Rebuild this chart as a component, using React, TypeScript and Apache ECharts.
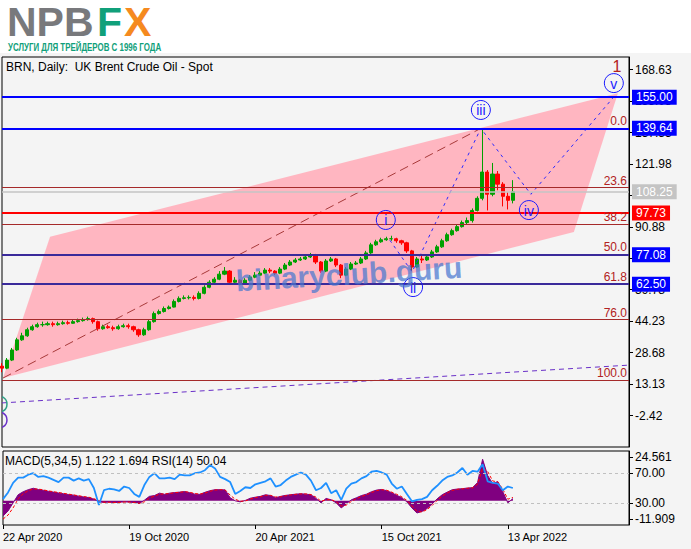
import React, { useEffect, useRef } from "react";
import * as echarts from "echarts";

const FONT = '"Liberation Sans", Arial, sans-serif';

// ---- weekly OHLC of Brent ----
const firstOpen = 22;
const closes = [
  21, 25, 30, 35, 37, 40, 41.5, 42.5, 42.5, 43, 42.5, 43, 43.5, 43.2, 44, 44.5, 45, 45.5, 44, 40.5,
  41.5, 41, 40.5, 41.5, 42, 41.5, 40, 37.5, 40, 44, 48, 49, 50.5, 51.2, 54, 55.5, 55.8, 56, 55.5, 58,
  61, 63.5, 65, 67.5, 69, 63.5, 64.5, 63, 64.5, 66, 67, 68, 69.5, 69, 68, 70, 72, 73.5, 74.5, 75,
  76, 77, 73.5, 69, 74, 75, 72, 67, 70, 72.5, 73, 75, 78, 82, 83.5, 84.5, 85, 85, 84, 83,
  79, 71, 75, 74.5, 76, 78.5, 81, 84, 87, 89, 91, 93, 94, 99, 105, 118, 107, 117, 112, 106,
  104, 108.25,
];
const highs = [
  23.5, 26, 31, 36, 38.5, 41, 42.5, 43.5, 44, 44, 44, 44, 44.5, 44.5, 45, 45.5, 46, 46.5, 46, 44.5,
  42.5, 42.5, 42, 42.5, 43, 43, 42, 40.5, 41, 45, 49, 50, 51.5, 52, 55, 56.5, 57, 57, 57, 59,
  62, 64.5, 66, 69, 71, 69.5, 66, 65, 65.5, 67, 68.5, 69, 70.5, 70.5, 69.5, 71, 73, 74.5, 75.5, 76,
  77, 78, 77.5, 74, 75, 76, 75.5, 72.5, 71, 73.5, 74, 76, 79, 83, 84.5, 85.5, 86, 86.5, 85.5, 84.5,
  83.5, 79.5, 76, 76.5, 77, 79.5, 82, 85, 88, 90, 92, 94, 95.5, 100, 106, 139.6, 119, 122.5, 118.5, 113,
  108, 114,
];
const lows = [
  19, 20.5, 24.5, 29.5, 34.5, 36.5, 39.5, 41, 41.5, 42, 41.5, 42, 42.5, 42.5, 43, 43.5, 44, 44.5, 43, 39.5,
  40, 40.5, 39.5, 40, 41, 40.5, 39, 36.5, 37, 39.5, 43.5, 47.5, 48.5, 50, 51, 53.5, 55, 55, 54.5, 55,
  57.5, 60.5, 63, 64.5, 67, 62.5, 62.5, 62, 62.5, 64, 65.5, 67, 67.5, 68, 67, 67.5, 69.5, 71.5, 73, 74,
  74.5, 75.5, 72.5, 68, 68.5, 73.5, 71, 65.5, 66.5, 69.5, 72, 72.5, 74.5, 77.5, 81.5, 83, 84, 84, 83, 82,
  78, 69, 70.5, 73, 74, 75.5, 78, 80.5, 83.5, 86.5, 88.5, 90.5, 92, 93, 98.5, 104, 99, 106, 109, 101,
  99.5, 102.5,
];

// ---- indicator panel (weekly samples) ----
const rsi = [
  35, 44, 57, 64, 64, 68, 70, 65, 66, 64, 61, 58, 64, 64, 60, 63, 60, 62, 50, 27,
  47, 49, 48, 46, 52, 50, 42, 38, 54, 65, 70, 63, 63, 64, 62, 68, 67, 67, 70, 71,
  74, 81, 76.5, 65, 62, 58, 42, 46, 51, 50, 55, 57, 59, 63, 52, 54, 60, 65, 68, 71,
  68, 60, 47, 50, 57, 43, 47, 34, 49, 56, 58, 63, 66, 72, 73, 71, 68, 56, 49, 52,
  42, 32, 34, 35, 38, 47, 53, 60, 65, 67, 71, 77, 68, 73, 72, 82, 59, 57, 56, 47,
  52, 50,
];
const macd = [
  -7.5, -5, -1, 3, 4.5, 5.5, 6.2, 5.6, 5.2, 4.7, 4.3, 3.9, 3.5, 3.1, 2.8, 2.3, 1.9, 1.6, 0.8, -0.5,
  -0.8, -0.6, -0.9, -0.7, -0.5, -0.6, -0.9, -1.3, 0.3, 2.2, 2.6, 3.8, 3.2, 3.8, 4.1, 4.3, 4.6, 4, 3.3, 3.2,
  4.2, 5, 5.5, 5.5, 5.4, 1.5, 0, -0.5, 0.2, 1.3, 1.8, 2.2, 3, 2.6, 1.5, 2.2, 2.7, 3, 3.3, 3.5,
  3.3, 3, 1.2, -1, 1.2, 0.5, -1, -3.5, -1.5, 0.5, 1.5, 2.6, 3.3, 4.5, 5.3, 5.6, 5, 4, 2.7, 1.5,
  -0.5, -3.5, -6, -5.2, -3.8, -1.5, 1, 3, 4.3, 5.5, 5.8, 6, 6.3, 6.5, 9, 20.5, 12.5, 8.5, 9.5, 4.5,
  -1, 1.1,
];
const signal = [
  -9, -7, -3.5, 1, 3.5, 5, 5.8, 5.8, 5.4, 4.9, 4.5, 4.1, 3.7, 3.3, 2.9, 2.5, 2.1, 1.8, 1.1, 0,
  -0.7, -0.7, -0.8, -0.8, -0.6, -0.6, -0.8, -1.2, -0.5, 1.4, 2.3, 3.3, 3.4, 3.6, 4, 4.2, 4.5, 4.2, 3.6, 3.3,
  3.8, 4.7, 5.3, 5.5, 5.4, 2.8, 0.8, -0.2, -0.1, 0.9, 1.6, 2, 2.7, 2.7, 1.9, 2, 2.5, 2.9, 3.2, 3.4,
  3.4, 3.1, 1.8, -0.2, 0.5, 0.6, -0.4, -2.6, -2.1, -0.3, 1, 2.1, 3, 4.1, 5, 5.5, 5.2, 4.3, 3.2, 2,
  0.2, -2.5, -5.2, -5.5, -4.3, -2.3, 0.2, 2.3, 3.9, 5.1, 5.7, 5.9, 6.2, 6.4, 8.2, 16, 14.5, 9.8, 9.3, 5.8,
  0.8, 1.7,
];

// ---- axes ----
const slotCount = 125;
const dateTickIndex = [0, 25, 50, 75, 100];
const dateTickLabels = ["22 Apr 2020", "19 Oct 2020", "20 Apr 2021", "15 Oct 2021", "13 Apr 2022"];
const priceTicks = [168.63, 153.08, 137.53, 121.98, 106.43, 90.88, 75.33, 59.78, 44.23, 28.68, 13.13, -2.42];
const rsiTicks = [70, 30];
const macdMax = 24.561;
const macdMin = -11.909;

// ---- Fibonacci retracement ----
const fibHigh = 139.64;
const fibLow = 15.16;
const fibRatios = [0, 23.6, 38.2, 50, 61.8, 76, 100];

// ---- horizontal levels ----
const levelValues = [155.0, 139.64, 108.25, 97.73, 77.08, 62.5];
const levelKinds = ["target", "target", "price", "support", "wave", "wave"];

// ---- drawn objects (x in week index, y in price) ----
const channelIdx = [0.2, 9.5, 121.8, 113.1];
const channelPrice = [16.1, 86.0, 157.0, 88.4];
const trendIdx = [0.2, 94.7];
const trendPrice = [16.1, 139.6];
const baseIdx = [0, 124];
const basePrice = [3.8, 22.5];
const waveIdx = [76.7, 81.1, 94.7, 104.6, 120.8];
const wavePrice = [84.3, 68.6, 139.6, 107.0, 154.6];
const waveLabels = ["i", "ii", "iii", "iv", "v"];
const waveLabelIdx = [75.9, 81.3, 94.7, 104.2, 121.0];
const waveLabelPrice = [94.3, 61.1, 148.7, 99.2, 162.0];
const degreeLabel = "1";
const degreeIdx = 121.6;
const degreePrice = 170.4;
const edgeCircleIdx = [-0.6, -0.6];
const edgeCirclePrice = [3.2, -4.6];

const levelStyle: Record<string, { line: string; width: number; box: string }> = {
  target: { line: "#0000ff", width: 2, box: "#0000ff" },
  price: { line: "#c4c4c4", width: 1.5, box: "#c4c4c4" },
  support: { line: "#ff0000", width: 2, box: "#ff0000" },
  wave: { line: "#3a2a9a", width: 2, box: "#0000ff" },
};

export default function App() {
  const ref = useRef<HTMLDivElement>(null);
  useEffect(() => {
    const chart = echarts.init(ref.current!, null, { renderer: "svg", width: 691, height: 549 });
    const slots = Array.from({ length: slotCount }, (_, i) => String(i));
    const candles = closes.map((c, i) => [i === 0 ? firstOpen : closes[i - 1], c, lows[i], highs[i]]);
    const macdRange = macdMax - macdMin;
    // label anchors placed just inside the panel edges (as the terminal draws them)
    const macdLabelAt = [macdMax - macdRange * 0.08, macdMin + macdRange * 0.08];
    const macdLabelText = [macdMax.toFixed(3), macdMin.toFixed(3)];

    const fibItems = fibRatios.map((r) => ({
      yAxis: fibHigh - (r / 100) * (fibHigh - fibLow),
      lineStyle: { color: "#a52a2a", width: 1, type: "solid" },
      label: {
        show: true,
        position: "insideEndTop",
        formatter: r.toFixed(1),
        color: "#b22222",
        fontSize: 12,
        fontFamily: FONT,
        distance: [2, 1],
      },
    }));
    const levelItems = levelValues.map((v, k) => {
      const s = levelStyle[levelKinds[k]];
      return {
        yAxis: v,
        lineStyle: { color: s.line, width: s.width, type: "solid" },
        label: {
          show: true,
          position: "end",
          formatter: v.toFixed(2),
          color: "#ffffff",
          backgroundColor: s.box,
          padding: [2, 4, 1, 4],
          fontSize: 12,
          fontFamily: FONT,
          distance: 3,
        },
      };
    });

    const lineSets = [
      { idx: trendIdx, price: trendPrice, stroke: "#a83a3a", dash: [9, 5] },
      { idx: baseIdx, price: basePrice, stroke: "#6a30c8", dash: [5, 4] },
      { idx: waveIdx, price: wavePrice, stroke: "#2a2aff", dash: [3, 4] },
    ];

    const option: any = {
      animation: false,
      backgroundColor: "#f4f4f4",
      textStyle: { fontFamily: FONT },
      grid: [
        { left: 2, top: 57, width: 627, height: 390, show: true, borderColor: "#000", borderWidth: 1, backgroundColor: "transparent" },
        { left: 2, top: 451, width: 627, height: 74, show: true, borderColor: "#000", borderWidth: 1, backgroundColor: "transparent" },
      ],
      xAxis: [
        { type: "category", gridIndex: 0, data: slots, boundaryGap: false, axisLine: { show: false, onZero: false }, axisTick: { show: false }, axisLabel: { show: false }, splitLine: { show: false } },
        {
          type: "category", gridIndex: 1, data: slots, boundaryGap: false,
          axisLine: { show: false, onZero: false },
          axisTick: { show: true, length: 4, lineStyle: { color: "#000" }, interval: (i: number) => dateTickIndex.includes(i) },
          axisLabel: {
            interval: (i: number) => dateTickIndex.includes(i),
            formatter: (_v: string, i: number) => dateTickLabels[dateTickIndex.indexOf(i)] ?? "",
            align: "left", color: "#000", fontSize: 11, fontFamily: FONT, margin: 6,
          },
          splitLine: { show: false },
        },
        { type: "value", gridIndex: 0, min: 0, max: slotCount - 1, show: false, axisLine: { onZero: false } },
      ],
      yAxis: [
        {
          type: "value", gridIndex: 0, position: "right", min: -18, max: 174.9,
          axisLine: { show: true, onZero: false, lineStyle: { color: "#000" } },
          axisTick: { show: true, length: 4, lineStyle: { color: "#000" }, customValues: priceTicks },
          axisLabel: { customValues: priceTicks, formatter: (v: number) => v.toFixed(2), color: "#000", fontSize: 12, fontFamily: FONT, margin: 6 },
          splitLine: { show: false },
        },
        {
          type: "value", gridIndex: 1, position: "right", min: 0, max: 100,
          axisLine: { show: true, onZero: false, lineStyle: { color: "#000" } },
          axisTick: { show: true, length: 4, lineStyle: { color: "#000" }, customValues: rsiTicks },
          axisLabel: { customValues: rsiTicks, formatter: (v: number) => v.toFixed(2), color: "#000", fontSize: 12, fontFamily: FONT, margin: 6 },
          splitLine: { show: false },
        },
        {
          type: "value", gridIndex: 1, position: "right", min: macdMin, max: macdMax,
          axisLine: { show: false, onZero: false },
          axisTick: { show: true, length: 4, lineStyle: { color: "#000" }, customValues: macdLabelAt },
          axisLabel: {
            customValues: macdLabelAt,
            formatter: (v: number) => macdLabelText[v > 0 ? 0 : 1],
            color: "#000", fontSize: 12, fontFamily: FONT, margin: 6,
          },
          splitLine: { show: false },
        },
      ],
      series: [
        {
          type: "custom", name: "channel", xAxisIndex: 2, yAxisIndex: 0, clip: true, silent: true, z: 1,
          data: [[0, 0]],
          renderItem: (_p: any, api: any) => ({
            type: "polygon",
            shape: { points: channelIdx.map((x, k) => api.coord([x, channelPrice[k]])) },
            style: { fill: "#ffb6c1" },
          }),
        },
        {
          type: "candlestick", name: "BRN", xAxisIndex: 0, yAxisIndex: 0, z: 2, barWidth: 3.6,
          data: candles,
          itemStyle: { color: "#00a000", color0: "#ff0000", borderColor: "#00a000", borderColor0: "#ff0000", borderWidth: 1 },
        },
        {
          type: "line", name: "levels", xAxisIndex: 0, yAxisIndex: 0, z: 3, clip: false, data: [],
          markLine: { silent: true, symbol: ["none", "none"], animation: false, data: [...fibItems, ...levelItems] },
        },
        {
          type: "custom", name: "lines", xAxisIndex: 2, yAxisIndex: 0, clip: true, silent: true, z: 4,
          data: lineSets.map((_, k) => [k, 0]),
          renderItem: (p: any, api: any) => {
            const d = lineSets[p.dataIndex];
            return {
              type: "polyline",
              shape: { points: d.idx.map((x, j) => api.coord([x, d.price[j]])) },
              style: { stroke: d.stroke, lineWidth: 1, lineDash: d.dash, fill: null },
            };
          },
        },
        {
          type: "custom", name: "waves", xAxisIndex: 2, yAxisIndex: 0, clip: true, silent: true, z: 5,
          data: waveLabels.map((_, k) => [k, 0]),
          renderItem: (p: any, api: any) => {
            const k = p.dataIndex;
            const [cx, cy] = api.coord([waveLabelIdx[k], waveLabelPrice[k]]);
            return {
              type: "group",
              children: [
                { type: "circle", shape: { cx, cy, r: 9.5 }, style: { fill: "none", stroke: "#1a1aff", lineWidth: 1 } },
                { type: "text", x: cx, y: cy + 0.5, style: { text: waveLabels[k], fill: "#1a1aff", font: `14px ${FONT}`, align: "center", verticalAlign: "middle" } },
              ],
            };
          },
        },
        {
          type: "custom", name: "marks", xAxisIndex: 2, yAxisIndex: 0, clip: true, silent: true, z: 5,
          data: [[0, 0]],
          renderItem: (_p: any, api: any) => {
            const [dx, dy] = api.coord([degreeIdx, degreePrice]);
            const c0 = api.coord([edgeCircleIdx[0], edgeCirclePrice[0]]);
            const c1 = api.coord([edgeCircleIdx[1], edgeCirclePrice[1]]);
            return {
              type: "group",
              children: [
                { type: "text", x: dx, y: dy, style: { text: degreeLabel, fill: "#b22222", font: `16px ${FONT}`, align: "center", verticalAlign: "middle" } },
                { type: "circle", shape: { cx: c0[0], cy: c0[1], r: 8 }, style: { fill: "none", stroke: "#2f9f86", lineWidth: 1.5 } },
                { type: "circle", shape: { cx: c1[0], cy: c1[1], r: 8 }, style: { fill: "none", stroke: "#6a30c8", lineWidth: 1.5 } },
              ],
            };
          },
        },
        {
          type: "line", name: "MACD", xAxisIndex: 1, yAxisIndex: 2, z: 2, data: macd, symbol: "none",
          lineStyle: { color: "#800080", width: 1 },
          areaStyle: { color: "#800080", opacity: 1, origin: 0 },
        },
        {
          type: "line", name: "Signal", xAxisIndex: 1, yAxisIndex: 2, z: 3, data: signal, symbol: "none",
          lineStyle: { color: "#ff0000", width: 1, type: [3, 2] },
        },
        {
          type: "line", name: "RSI", xAxisIndex: 1, yAxisIndex: 1, z: 4, data: rsi, symbol: "none",
          lineStyle: { color: "#1e90ff", width: 1.8 },
          markLine: {
            silent: true, symbol: ["none", "none"], label: { show: false },
            lineStyle: { color: "#c0c0c0", width: 1, type: [3, 3] },
            data: rsiTicks.map((v) => ({ yAxis: v })),
          },
        },
      ],
      graphic: [
        { type: "rect", shape: { x: 0, y: 0, width: 691, height: 53 }, style: { fill: "#ffffff" }, z: 0 },
        { type: "text", x: 7, y: 22, style: { text: "NPB", fill: "#78797c", font: `bold 41px ${FONT}`, verticalAlign: "middle" } },
        { type: "text", x: 97, y: 22, style: { text: "F", fill: "#10a07a", font: `bold 41px ${FONT}`, verticalAlign: "middle" } },
        { type: "text", x: 124, y: 22, style: { text: "X", fill: "#f58a1f", font: `bold 41px ${FONT}`, verticalAlign: "middle" } },
        { type: "text", x: 8, y: 47, scaleX: 0.72, style: { text: "УСЛУГИ ДЛЯ ТРЕЙДЕРОВ С 1996 ГОДА", fill: "#10a07a", font: `bold 11px ${FONT}`, verticalAlign: "middle" } },
        { type: "text", x: 6, y: 67, z: 20, style: { text: "BRN, Daily:  UK Brent Crude Oil - Spot", fill: "#000", font: `12px ${FONT}`, verticalAlign: "middle" } },
        { type: "text", x: 5, y: 461, z: 20, style: { text: "MACD(5,34,5) 1.122 1.694 RSI(14) 50.04", fill: "#000", font: `12px ${FONT}`, verticalAlign: "middle" } },
        {
          type: "text", x: 349, y: 274, rotation: 0.06, z: 20,
          style: { text: "binaryclub.guru", fill: "#4a78d0", opacity: 0.72, font: `bold 30px ${FONT}`, align: "center", verticalAlign: "middle" },
        },
      ],
    };
    chart.setOption(option);
    return () => chart.dispose();
  }, []);
  return <div ref={ref} style={{ position: "fixed", left: 0, top: 0, width: 691, height: 549 }} />;
}
